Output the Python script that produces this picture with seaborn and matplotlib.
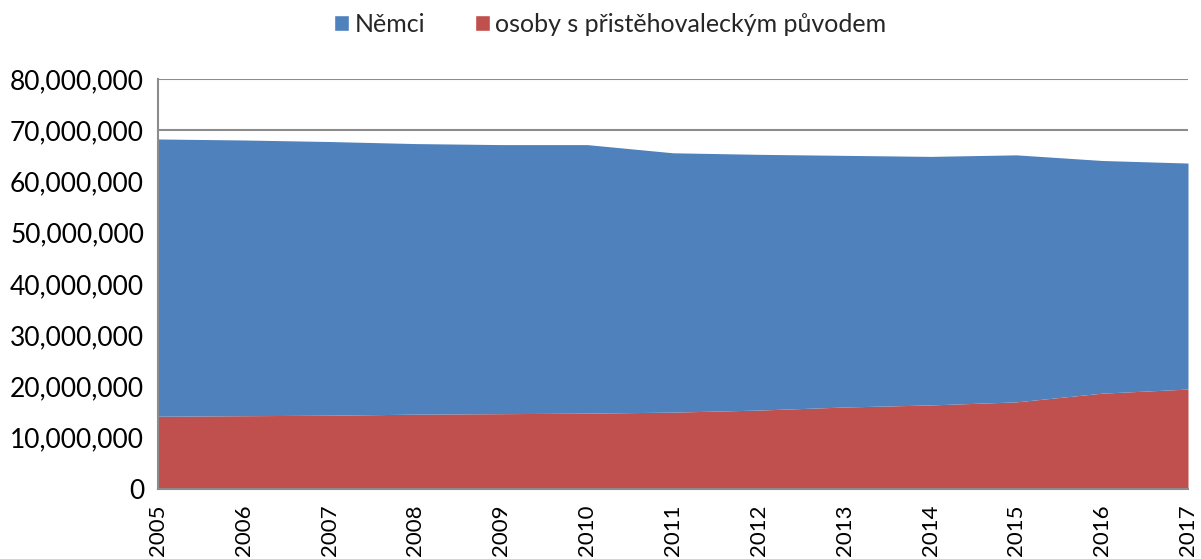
import matplotlib
matplotlib.use("Agg")
import matplotlib.pyplot as plt
import seaborn as sns
from matplotlib.ticker import FuncFormatter, MultipleLocator
from matplotlib.patches import Patch

years = [2005, 2006, 2007, 2008, 2009, 2010, 2011, 2012, 2013, 2014, 2015, 2016, 2017]
migranti = [14.2e6, 14.3e6, 14.4e6, 14.6e6, 14.7e6, 14.8e6, 15.0e6, 15.4e6, 16.0e6, 16.4e6, 17.0e6, 18.7e6, 19.5e6]
celkem = [68.3e6, 68.1e6, 67.8e6, 67.4e6, 67.2e6, 67.2e6, 65.6e6, 65.3e6, 65.1e6, 64.9e6, 65.2e6, 64.1e6, 63.6e6]
nemci = [c - m for c, m in zip(celkem, migranti)]
labels = ["Němci", "osoby s přistěhovaleckým původem"]
colors = {"Němci": "#4F81BD", "osoby s přistěhovaleckým původem": "#C0504D"}

sns.set_theme(style="white")
plt.rcParams['font.family'] = ['Lato', 'DejaVu Sans']

fig = plt.figure(figsize=(12.01, 5.59), dpi=100)
ax = fig.add_axes([158/1201, 1-489/559, (1188-158)/1201, (489-79)/559])

ax.stackplot(years, migranti, nemci,
             colors=[colors[labels[1]], colors[labels[0]]], linewidth=0, zorder=2)

ax.set_xlim(2005, 2017)
ax.set_ylim(0, 80e6)
ax.yaxis.set_major_locator(MultipleLocator(10e6))
ax.yaxis.set_major_formatter(FuncFormatter(lambda v, p: f"{int(v):,}"))
ax.set_xticks(years)
ax.set_xticklabels([str(y) for y in years], rotation=90)
ax.tick_params(axis='y', labelsize=19, length=0, pad=10, colors='black')
ax.tick_params(axis='x', labelsize=16, length=0, pad=11, colors='black')
ax.grid(axis='y', color='#8c8c8c', linewidth=1.5, zorder=0)
ax.set_axisbelow(True)
for s in ['top', 'right']:
    ax.spines[s].set_visible(False)
for s in ['left', 'bottom']:
    ax.spines[s].set_color('#8c8c8c')
    ax.spines[s].set_linewidth(1.5)
    ax.spines[s].set_zorder(3)

handles = [Patch(facecolor=colors[l], label=l) for l in labels]
fig.legend(handles=handles, loc='center', bbox_to_anchor=(0.508, 1-24/559),
           ncol=2, frameon=False, fontsize=18, handlelength=0.6, handleheight=0.6,
           handletextpad=0.2, columnspacing=2.0)

fig.savefig("out.png", dpi=100)
